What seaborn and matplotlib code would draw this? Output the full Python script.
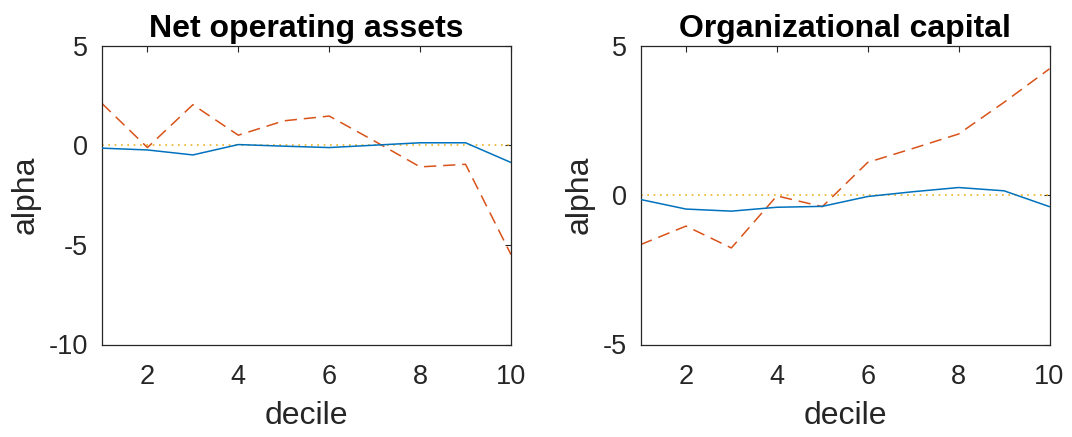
import numpy as np
import pandas as pd
import matplotlib
matplotlib.use("Agg")
import matplotlib.pyplot as plt
import seaborn as sns

# Decile portfolios and their alphas
deciles = [1, 2, 3, 4, 5, 6, 7, 8, 9, 10]

noa_solid = [-0.15, -0.24, -0.49, 0.03, -0.05, -0.12, 0.0, 0.12, 0.12, -0.87]
noa_dashed = [2.09, -0.12, 2.03, 0.50, 1.22, 1.46, 0.20, -1.09, -0.96, -5.49]

oc_solid = [-0.15, -0.47, -0.54, -0.41, -0.38, -0.05, 0.11, 0.25, 0.14, -0.39]
oc_dashed = [-1.66, -1.04, -1.77, -0.03, -0.39, 1.09, 1.56, 2.04, 3.10, 4.22]

zero_line = [0, 0, 0, 0, 0, 0, 0, 0, 0, 0]

titles = ["Net operating assets", "Organizational capital"]
ylims = [(-10, 5), (-5, 5)]
yticks = [[-10, -5, 0, 5], [-5, 0, 5]]
xticks = [2, 4, 6, 8, 10]

BLUE = "#0072BD"
ORANGE = "#D95319"
YELLOW = "#EDB120"
AXCOL = "#262626"

sns.set_style("white")
plt.rcParams["font.family"] = ["Liberation Sans", "DejaVu Sans"]

fig = plt.figure(figsize=(10.72, 4.37), dpi=100)
ax_w, ax_h = 409 / 1072, 299 / 437
bottom = (437 - 344.5) / 437
axes = [fig.add_axes([102 / 1072, bottom, ax_w, ax_h]),
        fig.add_axes([640.5 / 1072, bottom, ax_w, ax_h])]

panels = [(noa_solid, noa_dashed), (oc_solid, oc_dashed)]

for i, ax in enumerate(axes):
    solid, dashed = panels[i]
    df = pd.DataFrame({"decile": deciles, "solid": solid,
                       "dashed": dashed, "zero": zero_line})
    sns.lineplot(data=df, x="decile", y="solid", ax=ax, color=BLUE,
                 linewidth=1.1, zorder=3)
    sns.lineplot(data=df, x="decile", y="dashed", ax=ax, color=ORANGE,
                 linewidth=1.1, zorder=2)
    ax.lines[-1].set_dashes((8, 4.5))
    sns.lineplot(data=df, x="decile", y="zero", ax=ax, color=YELLOW,
                 linewidth=1.2, zorder=1)
    ax.lines[-1].set_dashes((1, 2.8))

    ax.set_xlim(1, 10)
    ax.set_ylim(*ylims[i])
    ax.set_xticks(xticks)
    ax.set_yticks(yticks[i])
    ax.set_xticklabels([str(t) for t in xticks])
    ax.set_yticklabels([str(t) for t in yticks[i]])
    ax.tick_params(direction="in", length=4.5, width=0.8, color=AXCOL,
                   labelcolor=AXCOL, labelsize=19.5, top=True, right=True)
    ax.tick_params(axis="x", pad=14)
    ax.tick_params(axis="y", pad=10)
    for sp in ax.spines.values():
        sp.set_visible(True)
        sp.set_color(AXCOL)
        sp.set_linewidth(0.9)
    ax.set_xlabel("decile", fontsize=23, color=AXCOL, labelpad=8)
    ax.set_ylabel("alpha", fontsize=23, color=AXCOL, labelpad=6)
    ax.set_title(titles[i], fontsize=23, fontweight="bold", color="black",
                 pad=6)

fig.savefig("out.png", dpi=100, facecolor="white")
